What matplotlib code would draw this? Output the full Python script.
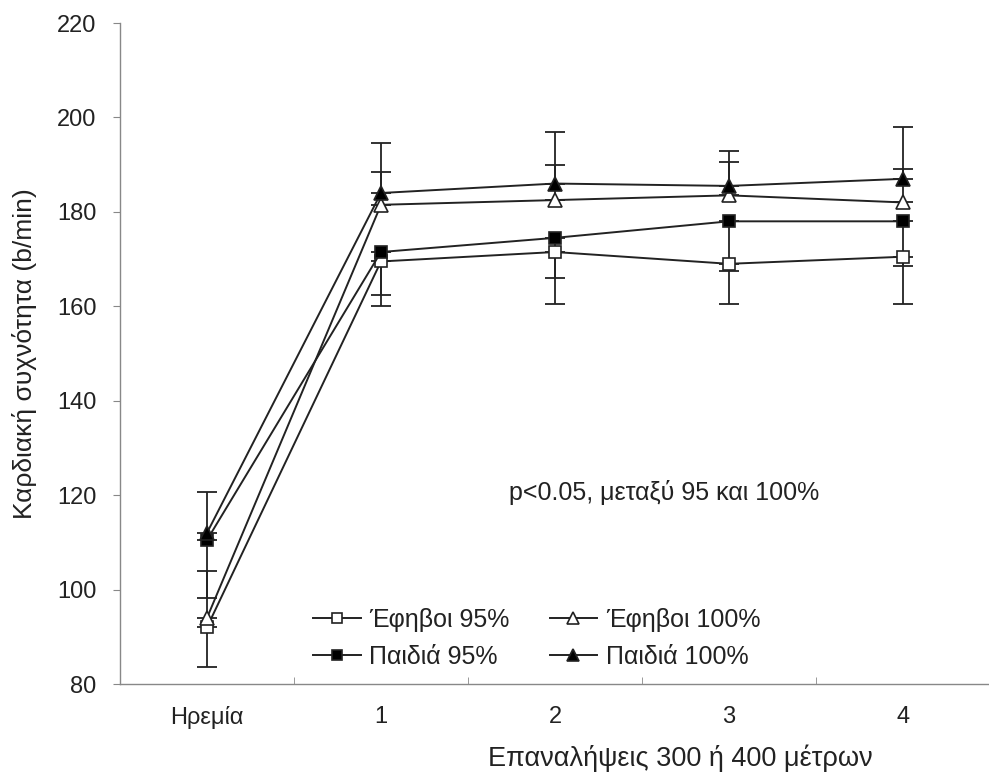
import matplotlib
matplotlib.use("Agg")
import matplotlib.pyplot as plt
import numpy as np

plt.rcParams['font.family'] = ['Liberation Sans', 'DejaVu Sans']

categories = ["Ηρεμία", "1", "2", "3", "4"]

ef95 = [92, 169.5, 171.5, 169, 170.5]
ef95_err_low = [8.5, 9.5, 11, 8.5, 10]
ef100 = [94, 181.5, 182.5, 183.5, 182]
ef100_err_up = [10, 7, 7.5, 7, 7]
pa95 = [110.5, 171.5, 174.5, 178, 178]
pa95_err_low = [12.3, 9, 8.5, 10.5, 9.5]
pa100 = [112, 184, 186, 185.5, 187]
pa100_err_up = [8.7, 10.5, 11, 7.5, 11]

series = [
    ("Έφηβοι 95%", ef95, ef95_err_low, "low", "s", "white"),
    ("Έφηβοι 100%", ef100, ef100_err_up, "up", "^", "white"),
    ("Παιδιά 95%", pa95, pa95_err_low, "low", "s", "black"),
    ("Παιδιά 100%", pa100, pa100_err_up, "up", "^", "black"),
]

fig = plt.figure(figsize=(9.89, 7.78), dpi=100)
ax = fig.add_axes([0.1213, 0.1208, 0.8797, 0.8496])

x = np.arange(len(categories))
handles = {}
for label, vals, err, direction, mk, fc in series:
    zeros = np.zeros(len(err))
    yerr = [err, zeros] if direction == "low" else [zeros, err]
    ax.errorbar(x, vals, yerr=yerr, fmt='none', ecolor='#222222',
                elinewidth=1.3, capsize=7, capthick=1.3, zorder=2)
    h, = ax.plot(x, vals, color='#222222', lw=1.4, marker=mk,
                 markersize=8.5 if mk == "s" else 9.5, markerfacecolor=fc,
                 markeredgecolor='#222222', markeredgewidth=1.2, zorder=3,
                 label=label)
    handles[label] = h

ax.set_xlim(-0.486, 4.486)
ax.set_ylim(80, 220)
ax.set_yticks(np.arange(80, 221, 20))
ax.set_xticks(x)
ax.set_xticklabels(categories)
ax.set_xticks(np.arange(-0.5, 4.6, 1), minor=True)
ax.tick_params(axis='x', which='major', length=0, pad=16, labelsize=17, colors='#222222')
ax.tick_params(axis='x', which='minor', length=5, color='#888888', direction='in')
ax.tick_params(axis='y', length=5, color='#888888', pad=12, labelsize=17, labelcolor='#222222')

for s in ['top', 'right']:
    ax.spines[s].set_visible(False)
for s in ['left', 'bottom']:
    ax.spines[s].set_color('#888888')
    ax.spines[s].set_linewidth(1.0)

ax.set_ylabel("Καρδιακή συχνότητα (b/min)", fontsize=19, color='#222222', labelpad=14)
ax.set_xlabel("Επαναλήψεις 300 ή 400 μέτρων", fontsize=19.5, color='#222222')
ax.xaxis.label.set_va('center')
ax.xaxis.set_label_coords(0.644, -0.112)

ax.text(2.63, 120.5, "p<0.05, μεταξύ 95 και 100%", fontsize=18,
        ha='center', va='center', color='#222222')

order = ["Έφηβοι 95%", "Παιδιά 95%", "Έφηβοι 100%", "Παιδιά 100%"]
leg = ax.legend([handles[k] for k in order], order, ncol=2, frameon=False,
                loc='upper left', bbox_to_anchor=(313 / 989, 1 - 608 / 778),
                bbox_transform=fig.transFigure, borderpad=0, borderaxespad=0,
                fontsize=18, handlelength=1.9, columnspacing=1.6,
                handletextpad=0.35, labelspacing=0.5, markerscale=0.9)
for t in leg.get_texts():
    t.set_color('#222222')

fig.savefig("out.png", dpi=100)
